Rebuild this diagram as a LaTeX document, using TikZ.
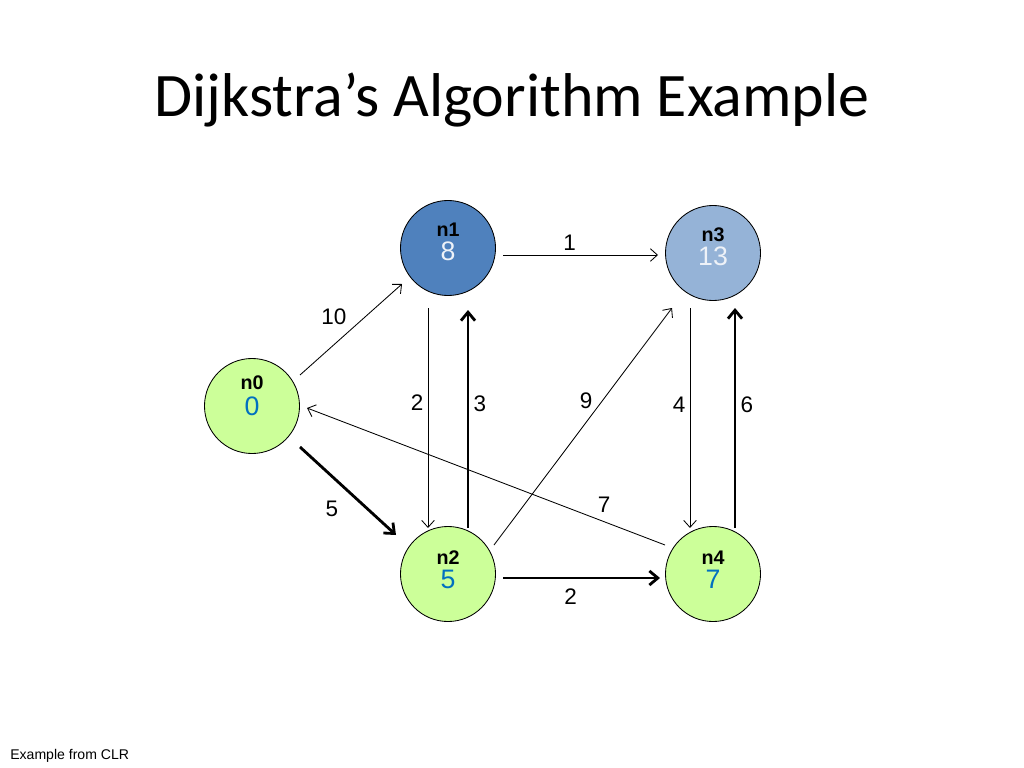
\documentclass[tikz,border=0pt]{standalone}
\usepackage{fontspec}
\setmainfont{Liberation Sans}
\newfontfamily\titlefont{Carlito}
\usepackage{xcolor}
\usetikzlibrary{arrows.meta,calc}

\definecolor{vgreen}{HTML}{CCFF99}
\definecolor{vblue}{HTML}{4F81BD}
\definecolor{vlight}{HTML}{95B3D7}
\definecolor{dblue}{HTML}{0070C0}
\definecolor{pale}{HTML}{EEF2F8}

% vertex text: #1 label raise, #2 label, #3 number raise, #4 number
\newcommand{\vtxtext}[4]{%
  \raisebox{#1}[0pt][0pt]{\makebox[0pt]{\fontsize{14}{14}\selectfont\bfseries #2}}%
  \raisebox{#3}[0pt][0pt]{\makebox[0pt]{\fontsize{19}{19}\selectfont #4}}}

\begin{document}
\begin{tikzpicture}[
  x=0.025cm, y=-0.025cm,
  vtx/.style={circle, draw, line width=0.6pt, minimum size=2.375cm, inner sep=0pt},
  wt/.style={font=\fontsize{16}{16}\selectfont, inner sep=3pt},
  arr/.style={-{Straight Barb[length=5pt,width=9pt]}, line width=0.6pt},
  tarr/.style={-{Straight Barb[length=6pt,width=10pt]}, line width=2pt}
]
\useasboundingbox (0,0) rectangle (1024,768);

\node[font=\titlefont\fontsize{44}{44}\selectfont] (title) at (512,100) {Dijkstra’s Algorithm Example};

% vertices
\node[vtx, fill=vgreen] (n0) at (252,406) {\vtxtext{12pt}{n0}{-7pt}{\color{dblue}0}};
\node[vtx, fill=vblue]  (n1) at (448,248) {\vtxtext{8pt}{n1}{-9pt}{\color{pale}8}};
\node[vtx, fill=vlight] (n3) at (713,253) {\vtxtext{8pt}{n3}{-9pt}{\color{pale}13}};
\node[vtx, fill=vgreen] (n2) at (448,574) {\vtxtext{7pt}{n2}{-10pt}{\color{dblue}5}};
\node[vtx, fill=vgreen] (n4) at (713,574) {\vtxtext{7pt}{n4}{-10pt}{\color{dblue}7}};

% edges
\draw[arr]  ($(n0)+(48,-31)$) -- ($(n1)+(-46,36)$) node[wt, midway, above left] (w01) {10};
\draw[arr]  ($(n1)+(55,7)$) -- ($(n3)+(-55,2)$) node[wt, pos=0.43, above] (w13) {1};
\draw[arr]  ($(n1)+(-20,60)$) -- ($(n2)+(-20,-46)$) node[wt, pos=0.43, left] (w12) {2};
\draw[tarr] ($(n2)+(20,-46)$) -- ($(n1)+(20,62)$) node[wt, pos=0.57, right] (w21) {3};
\draw[arr]  ($(n2)+(46,-29)$) -- ($(n3)+(-41,55)$) node[wt, pos=0.61, left=4pt] (w23) {9};
\draw[arr]  ($(n3)+(-23,55)$) -- ($(n4)+(-23,-46)$) node[wt, pos=0.44, left] (w34) {4};
\draw[tarr] ($(n4)+(22,-46)$) -- ($(n3)+(22,55)$) node[wt, pos=0.56, right] (w43) {6};
\draw[arr]  ($(n4)+(-48,-29)$) -- ($(n0)+(55,2)$) node[wt, pos=0.17, above=3pt] (w40) {7};
\draw[tarr] ($(n0)+(48,41)$) -- ($(n2)+(-52,-39)$) node[wt, pos=0.5, below left=3pt] (w02) {5};
\draw[tarr] ($(n2)+(55,4)$) -- ($(n4)+(-53,4)$) node[wt, pos=0.43, below=4pt] (w24) {2};

\node[font=\fontsize{10}{10}\selectfont, anchor=west, inner sep=0pt] (src) at (10,756) {Example from CLR};
\end{tikzpicture}
\end{document}
